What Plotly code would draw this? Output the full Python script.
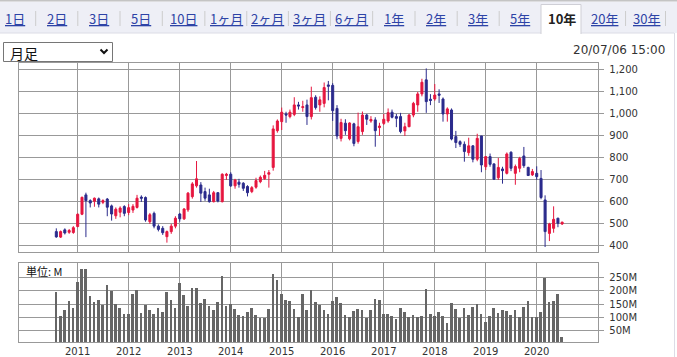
import plotly.graph_objects as go

W, H = 677, 357

# ---------------- data ----------------
months = [f"{2010 + (7 + k) // 12}-{(7 + k) % 12 + 1:02d}-01" for k in range(120)]  # 2010-08 .. 2020-07

opens = [465, 440, 473, 462, 461,
         488, 544, 632, 606, 603, 614, 598, 613, 582, 537, 553, 579,
         552, 563, 575, 622, 620, 510, 548, 490, 480, 442, 465, 490,
         545, 523, 564, 624, 673, 677, 647, 632, 601, 642, 601, 720,
         726, 673, 690, 685, 670, 647, 667, 692, 706, 726, 757, 924,
         965, 1000, 988, 998, 1041, 1029, 1041, 988, 1076, 1041, 1048, 1132,
         1130, 1025, 889, 958, 887, 955, 875, 920, 995, 968, 973, 938,
         957, 968, 1008, 988, 988, 923, 942, 995, 1041, 1091, 1155, 1067,
         1068, 1091, 1068, 1000, 1018, 897, 874, 862, 824, 855, 794, 900,
         760, 806, 773, 710, 750, 730, 826, 730, 753, 809, 757, 723,
         730, 707, 609, 457, 480, 526, 500]
highs = [480, 470, 480, 477, 490,
         548, 624, 642, 612, 620, 620, 612, 618, 588, 575, 580, 585,
         590, 590, 632, 630, 625, 550, 556, 498, 490, 470, 500, 535,
         550, 572, 645, 690, 786, 690, 665, 660, 650, 645, 730, 732,
         735, 705, 705, 690, 676, 672, 710, 720, 741, 745, 948, 975,
         1029, 1010, 1020, 1076, 1055, 1060, 1065, 1124, 1085, 1080, 1143, 1150,
         1140, 1040, 978, 976, 962, 960, 1006, 1011, 1000, 990, 985, 960,
         1000, 1025, 1020, 1000, 1005, 960, 1000, 1055, 1100, 1160, 1207, 1090,
         1136, 1112, 1075, 1030, 1025, 923, 880, 875, 892, 858, 910, 900,
         808, 820, 775, 800, 760, 825, 830, 770, 805, 850, 760, 750,
         762, 745, 630, 505, 580, 528, 510]
lows = [437, 436, 452, 455, 455,
        485, 540, 440, 575, 578, 575, 590, 535, 515, 523, 530, 535,
        540, 550, 570, 600, 510, 500, 480, 466, 450, 415, 455, 480,
        510, 518, 555, 615, 665, 600, 605, 597, 598, 598, 598, 700,
        668, 660, 665, 650, 625, 640, 660, 685, 700, 665, 742, 915,
        927, 960, 980, 990, 1020, 1010, 950, 975, 1020, 1010, 1030, 1062,
        968, 885, 875, 905, 880, 853, 865, 905, 950, 960, 851, 900,
        950, 960, 980, 940, 912, 900, 940, 985, 1010, 1080, 1005, 1040,
        1060, 1050, 965, 965, 880, 845, 850, 783, 810, 780, 785, 735,
        745, 760, 700, 700, 683, 725, 740, 678, 735, 755, 718, 718,
        700, 612, 395, 422, 460, 485, 495]
closes = [441, 465, 459, 470, 483,
          544, 621, 606, 595, 617, 590, 606, 576, 545, 567, 572, 548,
          574, 580, 617, 617, 518, 542, 490, 475, 460, 465, 490, 526,
          523, 568, 640, 682, 705, 640, 617, 601, 642, 604, 726, 726,
          673, 700, 680, 662, 642, 665, 697, 712, 721, 733, 932, 968,
          1008, 995, 1008, 1041, 1036, 1033, 988, 1074, 1029, 1064, 1120, 1126,
          1015, 900, 961, 924, 959, 866, 942, 995, 976, 975, 924, 945,
          976, 1006, 985, 980, 920, 942, 995, 1048, 1091, 1144, 1056, 1061,
          1086, 1085, 1000, 1023, 886, 870, 862, 829, 855, 794, 889, 768,
          806, 771, 703, 757, 742, 818, 753, 761, 798, 765, 720, 738,
          715, 620, 465, 500, 521, 503, 508]
volumes = [197, 105, 128, 162, 137,
           235, 283, 283, 181, 159, 166, 147, 222, 200, 149, 137, 112,
           112, 188, 203, 118, 147, 128, 113, 137, 122, 197, 166, 137,
           231, 185, 144, 210, 210, 153, 169, 144, 128, 157, 256, 144,
           149, 132, 109, 105, 119, 137, 109, 99, 96, 132, 264, 241,
           188, 166, 162, 132, 100, 188, 128, 203, 159, 147, 128, 113,
           162, 176, 153, 109, 100, 124, 132, 128, 99, 128, 169, 166,
           112, 112, 105, 94, 137, 119, 100, 109, 100, 105, 207, 113,
           105, 119, 105, 78, 153, 132, 99, 134, 109, 138, 149, 113,
           81, 105, 134, 115, 128, 124, 109, 128, 100, 138, 162, 100,
           100, 119, 247, 157, 162, 187, 27]

year_labels = [str(y) for y in range(2011, 2021)]
year_ticks = [f"{y}-01-01" for y in range(2011, 2021)]
price_ticks = [400, 500, 600, 700, 800, 900, 1000, 1100, 1200]
vol_ticks = [50, 100, 150, 200, 250]
vol_labels = ["50M", "100M", "150M", "200M", "250M"]

tabs = ["1日", "2日", "3日", "5日", "10日", "1ヶ月", "2ヶ月", "3ヶ月", "6ヶ月",
        "1年", "2年", "3年", "5年", "10年", "20年", "30年"]
tab_centers = [14.7, 56.7, 98.9, 141.1, 183.5, 226.2, 267.3, 309.5, 351.3,
               394.0, 436.0, 478.4, 520.0, 562.3, 604.3, 646.8]
selected_tab = "10年"

RED = "#e6163f"
BLUE = "#2b2b8c"
GRID = "#999999"
TXT = "#333333"


def px(x):
    return x / W


def py(y):
    return 1 - y / H


# plot area in pixels
L, R = 19.3, 598.3
P_TOP, P_BOT = 62.7, 252.3
V_TOP, V_BOT = 263.0, 342.3

fig = go.Figure()
fig.add_trace(go.Candlestick(
    x=months, open=opens, high=highs, low=lows, close=closes,
    xaxis="x", yaxis="y",
    increasing=dict(line=dict(color=RED, width=1), fillcolor=RED),
    decreasing=dict(line=dict(color=BLUE, width=1), fillcolor=BLUE),
    whiskerwidth=0, showlegend=False, hoverinfo="skip",
))
fig.add_trace(go.Bar(
    x=months, y=volumes, xaxis="x2", yaxis="y2",
    marker=dict(color="#666666", line=dict(width=0)),
    width=0.64 * 30.44 * 86400000, showlegend=False, hoverinfo="skip",
))

xr = ["2009-11-09", "2021-03-17"]
axis_common = dict(showgrid=True, gridcolor=GRID, gridwidth=1, showline=True,
                   mirror=True, linecolor=GRID, linewidth=1, zeroline=False)

shapes = []
ann = []

# top line and tab bar
shapes.append(dict(type="rect", xref="paper", yref="paper", x0=0, x1=1,
                   y0=py(33), y1=py(1.5), fillcolor="#eeeff6", line=dict(width=0), layer="below"))
shapes.append(dict(type="rect", xref="paper", yref="paper", x0=0, x1=1,
                   y0=py(1.5), y1=1, fillcolor="#c4c4c4", line=dict(width=0), layer="below"))
shapes.append(dict(type="line", xref="paper", yref="paper", x0=0, x1=px(674),
                   y0=py(33), y1=py(33), line=dict(color="#dcdce6", width=1), layer="below"))
# selected tab
shapes.append(dict(type="rect", xref="paper", yref="paper", x0=px(541), x1=px(581),
                   y0=py(34), y1=py(4.5), fillcolor="white", line=dict(width=0), layer="below"))
shapes.append(dict(type="path", xref="paper", yref="paper",
                   path=f"M {px(541)},{py(34)} L {px(541)},{py(4.5)} L {px(581)},{py(4.5)} L {px(581)},{py(34)}",
                   line=dict(color="#cfcfd6", width=1), layer="below"))
# right panel border
shapes.append(dict(type="line", xref="paper", yref="paper", x0=px(674.5), x1=px(674.5),
                   y0=0, y1=py(33), line=dict(color="#dcdce6", width=1), layer="below"))

sel_idx = tabs.index(selected_tab)
for k, (t, c) in enumerate(zip(tabs, tab_centers)):
    if k == sel_idx:
        ann.append(dict(text=f"<b>{t}</b>", x=px(c), y=py(18.5), xref="paper", yref="paper",
                        showarrow=False, xanchor="center", yanchor="middle",
                        font=dict(family="Noto Sans CJK JP", size=13, color="#222222")))
    else:
        ann.append(dict(text=t, x=px(c), y=py(18.5), xref="paper", yref="paper",
                        showarrow=False, xanchor="center", yanchor="middle",
                        font=dict(family="Noto Sans CJK JP", size=13, color="#2d43a6",
                                  lineposition="under")))
    if k < len(tabs) - 1 and k not in (sel_idx - 1, sel_idx):
        sx = (c + tab_centers[k + 1]) / 2
        shapes.append(dict(type="line", xref="paper", yref="paper", x0=px(sx), x1=px(sx),
                           y0=py(26), y1=py(11), line=dict(color="#cccccc", width=1)))
shapes.append(dict(type="line", xref="paper", yref="paper", x0=px(665.5), x1=px(665.5),
                   y0=py(26), y1=py(11), line=dict(color="#cccccc", width=1)))

# dropdown
shapes.append(dict(type="rect", xref="paper", yref="paper", x0=px(3.5), x1=px(112.5),
                   y0=py(61.5), y1=py(42.5), fillcolor="white", line=dict(color="#767676", width=1)))
shapes.append(dict(type="path", xref="paper", yref="paper",
                   path=f"M {px(100.5)},{py(49.5)} L {px(104)},{py(53)} L {px(107.5)},{py(49.5)}",
                   line=dict(color="#111111", width=2)))
ann.append(dict(text="月足", x=px(7.5), y=py(52.5), xref="paper", yref="paper", showarrow=False,
                xanchor="left", yanchor="middle",
                font=dict(family="Noto Sans CJK JP", size=14, color="#111111")))
# timestamp
ann.append(dict(text="20/07/06 15:00", x=px(667), y=py(50.5), xref="paper", yref="paper",
                showarrow=False, xanchor="right", yanchor="middle",
                font=dict(family="DejaVu Sans", size=12, color=TXT)))
# unit label
ann.append(dict(text="単位: M", x=px(24), y=py(271), xref="paper", yref="paper",
                showarrow=False, xanchor="left", yanchor="middle",
                font=dict(family="Noto Sans CJK JP", size=11, color="#111111")))

tickfont = dict(family="DejaVu Sans", size=10, color=TXT)

fig.update_layout(
    width=W, height=H, margin=dict(l=0, r=0, t=0, b=0),
    paper_bgcolor="white", plot_bgcolor="white",
    showlegend=False, boxgap=0.26, bargap=0,
    hovermode=False,
    xaxis=dict(domain=[px(L), px(R)], range=xr, type="date", anchor="y",
               tickvals=year_ticks, showticklabels=False, ticks="",
               rangeslider=dict(visible=False), **axis_common),
    xaxis2=dict(domain=[px(L), px(R)], range=xr, type="date", anchor="y2",
                tickvals=year_ticks, ticktext=year_labels, ticks="",
                tickfont=tickfont, **axis_common),
    yaxis=dict(domain=[py(P_BOT), py(P_TOP)], range=[371, 1233], anchor="x", side="right",
               tickvals=price_ticks, tickformat=",d", ticks="outside", ticklen=5,
               tickcolor=GRID, tickfont=tickfont, ticklabelstandoff=3, **axis_common),
    yaxis2=dict(domain=[py(V_BOT), py(V_TOP)], range=[6, 305], anchor="x2", side="right",
                tickvals=vol_ticks, ticktext=vol_labels, ticks="outside", ticklen=5,
                tickcolor=GRID, tickfont=tickfont, ticklabelstandoff=3, **axis_common),
    shapes=shapes, annotations=ann,
)

fig.write_html("out.html", config=dict(displayModeBar=False),
               post_script="document.body.style.margin='0';document.body.style.overflow='hidden';")
